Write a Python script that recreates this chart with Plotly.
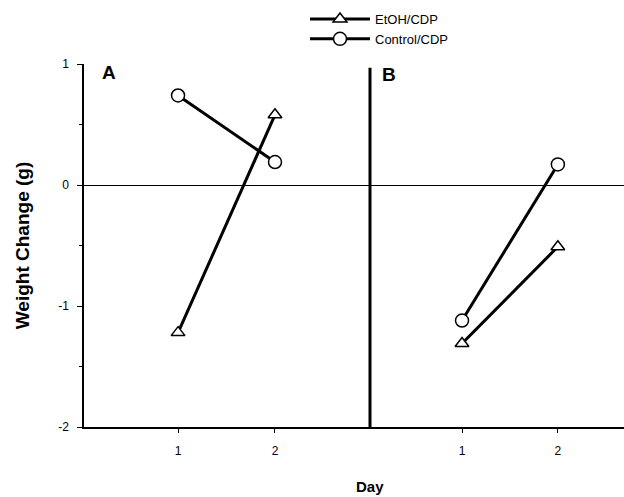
import plotly.graph_objects as go

days = [1, 2]
day_labels = ["1", "2"]
etoh_a = [-1.22, 0.58]
control_a = [0.74, 0.19]
etoh_b = [-1.31, -0.51]
control_b = [-1.12, 0.17]
y_ticks = [-2, -1, 0, 1]
y_labels = ["-2", "-1", "0", "1"]

FONT = "Liberation Sans, Arial, sans-serif"
split = (370 - 84) / 540

fig = go.Figure()

def add(x, y, name, symbol, size, xaxis, showlegend):
    fig.add_trace(go.Scatter(
        x=x, y=y, name=name, mode="lines+markers", xaxis=xaxis, yaxis="y",
        line=dict(color="black", width=3),
        marker=dict(symbol=symbol, size=size, color="white",
                    line=dict(color="black", width=1.5)),
        showlegend=showlegend, legendgroup=name, cliponaxis=False))

add(days, etoh_a, "EtOH/CDP", "triangle-up", 12, "x", True)
add(days, control_a, "Control/CDP", "circle", 13, "x", True)
add(days, etoh_b, "EtOH/CDP", "triangle-up", 12, "x2", False)
add(days, control_b, "Control/CDP", "circle", 13, "x2", False)

def xcommon():
    return dict(showline=True, linecolor="black", linewidth=1.5,
                ticks="outside", ticklen=4, tickwidth=1, tickcolor="black",
                tickvals=days, ticktext=day_labels, showgrid=False, zeroline=False,
                ticklabelstandoff=8,
                tickfont=dict(family=FONT, size=12, color="black"), anchor="y")

fig.update_layout(
    template="simple_white",
    width=624, height=497,
    margin=dict(l=84, r=0, t=64, b=70),
    paper_bgcolor="white", plot_bgcolor="white",
    font=dict(family=FONT, color="black"),
    xaxis=dict(domain=[0, split], range=[0.03, 2.98], **xcommon()),
    xaxis2=dict(domain=[split, 1], range=[0.04, 2.69], **xcommon()),
    yaxis=dict(range=[-2, 1], tickvals=y_ticks, ticktext=y_labels,
               showline=True, linecolor="black", linewidth=1.5,
               ticks="outside", ticklen=5, tickwidth=1, tickcolor="black",
               minor=dict(dtick=0.5, ticks="outside", ticklen=3, tickcolor="black"),
               showgrid=False, zeroline=True, zerolinecolor="black", zerolinewidth=1,
               ticklabelstandoff=6,
               tickfont=dict(family=FONT, size=12, color="black"),
               title=dict(text="<b>Weight Change (g)</b>", standoff=24,
                          font=dict(family=FONT, size=19, color="black"))),
    legend=dict(x=(305 - 84) / 540, xanchor="left", y=1 + 60 / 363, yanchor="top",
                font=dict(family=FONT, size=13, color="black"),
                bgcolor="rgba(0,0,0,0)", tracegroupgap=0, itemwidth=60),
    shapes=[dict(type="line", xref="paper", yref="y", x0=split, x1=split,
                 y0=-2.04, y1=0.97, opacity=1, layer="above",
                 line=dict(color="#000000", width=3))],
    annotations=[
        dict(text="<b>A</b>", xref="paper", yref="paper", x=(100 - 84) / 540, y=1 + 4 / 363,
             xanchor="left", yanchor="top", showarrow=False,
             font=dict(family=FONT, size=19, color="black")),
        dict(text="<b>B</b>", xref="paper", yref="paper", x=(380 - 84) / 540, y=1 + 2 / 363,
             xanchor="left", yanchor="top", showarrow=False,
             font=dict(family=FONT, size=19, color="black")),
        dict(text="<b>Day</b>", xref="paper", yref="paper", x=split, y=-(487 - 427) / 363,
             xanchor="center", yanchor="middle", showarrow=False,
             font=dict(family=FONT, size=15, color="black")),
    ],
)

fig.write_html("out.html")
